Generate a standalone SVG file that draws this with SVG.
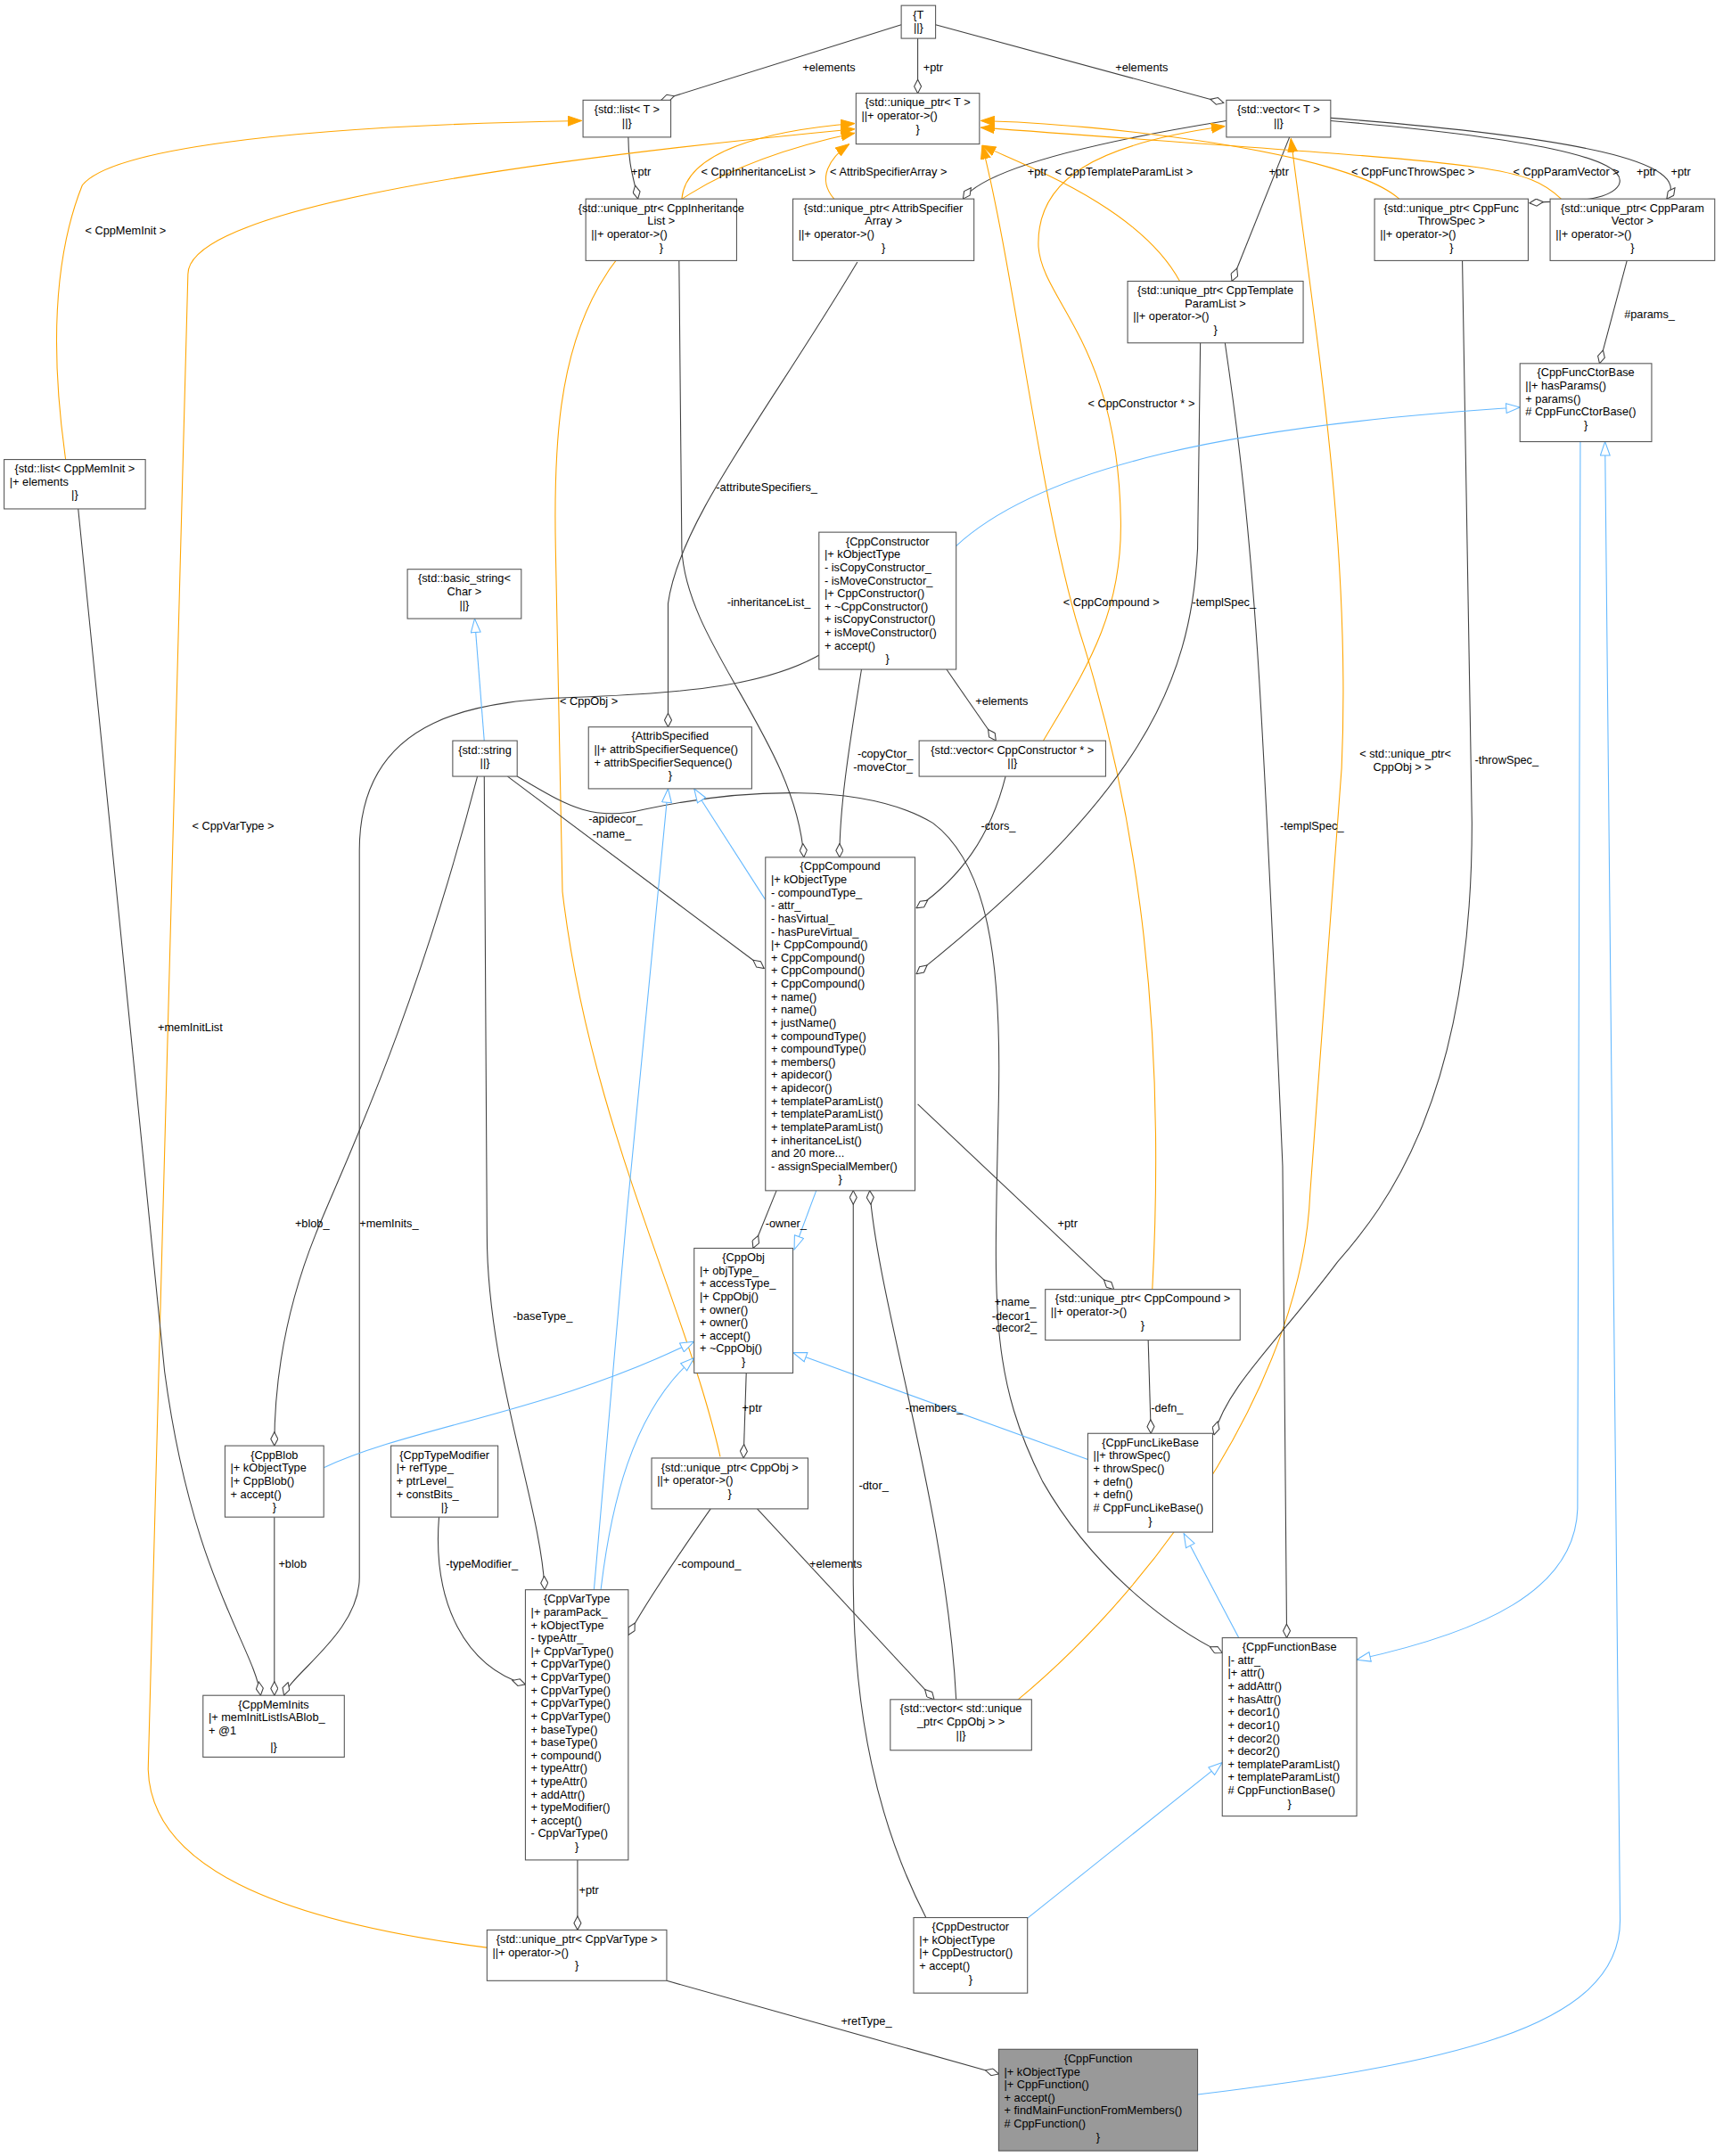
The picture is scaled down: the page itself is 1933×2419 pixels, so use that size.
<svg xmlns="http://www.w3.org/2000/svg" width="1933" height="2419" viewBox="0 0 1933 2419">
<style>
text{font-family:"Liberation Sans",Arial,sans-serif;font-size:8.3px;fill:#000}
.c{text-anchor:middle}
.node rect{fill:#fff;stroke:#555;stroke-width:0.7}
#n-func rect{fill:#999}
.e path{fill:none;stroke:#404040;stroke-width:0.7}
.e path.o{stroke:#ffa500}
.e path.b{stroke:#63b8ff}
.d{marker-end:url(#dia)}
.o{marker-end:url(#oarr)}
.b{marker-end:url(#barr)}
</style>
<defs>
<marker id="dia" markerUnits="userSpaceOnUse" viewBox="0 -3 11 6" refX="10.5" refY="0" markerWidth="11" markerHeight="6" orient="auto"><path d="M0.5,0 L5.5,-2.6 L10.5,0 L5.5,2.6 Z" fill="#fff" stroke="#404040" stroke-width="0.7"/></marker>
<marker id="oarr" markerUnits="userSpaceOnUse" viewBox="0 -4 10 8" refX="10" refY="0" markerWidth="10" markerHeight="8" orient="auto"><path d="M0,-3.5 L10,0 L0,3.5 Z" fill="#ffa500" stroke="#ffa500" stroke-width="0.7"/></marker>
<marker id="barr" markerUnits="userSpaceOnUse" viewBox="0 -4 11 8" refX="10.5" refY="0" markerWidth="11" markerHeight="8" orient="auto"><path d="M0.5,-3.5 L10.5,0 L0.5,3.5 Z" fill="#fff" stroke="#63b8ff" stroke-width="0.7"/></marker>
</defs>
<rect width="1933" height="2419" fill="#fff"/>
<g transform="scale(1.539)">
<g id="edges" class="e">
<path class="d" d="M657,18 L482,73"/>
<path class="d" d="M669,28 L669,68"/>
<path class="d" d="M682,18 L892,75"/>
<path class="d" d="M458,100 C458,120 462,130 465,145"/>
<path class="d" d="M894,88 C820,100 720,120 702,145"/>
<path class="d" d="M940,100 L898,205"/>
<path class="d" d="M970,88 C1110,100 1190,115 1180,135 C1172,148 1140,146 1115,148"/>
<path class="d" d="M970,86 C1150,100 1235,118 1215,145"/>
<path class="d" d="M1186,190 L1166,265"/>
<path class="o" d="M497,145 C500,110 560,95 623,90"/>
<path class="o" d="M608,145 C595,130 605,115 619,105"/>
<path class="o" d="M860,205 C830,150 745,120 716,106"/>
<path class="o" d="M1020,145 C980,110 800,90 715,88"/>
<path class="o" d="M1138,145 C1110,118 1080,120 715,93"/>
<path class="o" d="M48,336 C40,280 34,200 60,135 C80,110 200,92 424,88"/>
<path class="o" d="M356,1420 C200,1400 110,1360 108,1290 L137,200 C137,160 300,125 623,94"/>
<path class="o" d="M525,1062 C500,950 430,820 410,650 L405,400 C402,250 420,140 623,97"/>
<path class="o" d="M840,940 C850,750 830,600 790,470 C760,380 740,200 716,106"/>
<path class="o" d="M760,541 C790,490 818,450 817,380 C815,250 760,220 757,180 C755,130 800,105 893,92"/>
<path class="o" d="M741,1240 C850,1150 950,1000 955,870 L978,560 C985,400 960,250 941,101"/>
<path class="d" d="M495,190 L497,400 C500,470 580,540 586,625"/>
<path class="d" d="M625,191 C560,300 495,380 487,440 L487,530"/>
<path class="d" d="M875,250 L873,400 C868,500 830,580 668,710"/>
<path class="d" d="M893,250 C915,400 920,500 935,850 L938,1194"/>
<path class="d" d="M1066,190 L1073,600 C1073,800 1010,880 975,920 C930,980 895,1010 885,1046"/>
<path class="d" d="M57,371 C70,500 100,800 120,1000 C140,1150 185,1200 190,1236"/>
<path class="d" d="M600,476 C560,500 500,505 430,508 C350,510 262,520 262,620 L262,1150 C262,1190 212,1220 207,1236"/>
<path class="d" d="M628,488 C618,550 612,590 612,625"/>
<path class="d" d="M690,488 L726,540"/>
<path class="d" d="M733,566 C722,610 700,640 668,662"/>
<path class="d" d="M370,566 L557,706"/>
<path class="d" d="M377,566 C410,585 430,600 470,590 C540,575 630,570 680,600 C720,630 730,700 728,800 C725,950 720,1000 760,1080 C800,1150 860,1190 891,1205"/>
<path class="d" d="M348,566 C300,750 250,850 230,900 C210,950 200,1000 200,1054"/>
<path class="d" d="M353,566 L355,900 C355,1000 395,1100 397,1159"/>
<path class="b" d="M353,540 L346,451"/>
<path class="b" d="M558,656 L506,575"/>
<path class="b" d="M433,1159 L457,884 L487,575"/>
<path class="b" d="M595,868 L579,911"/>
<path class="d" d="M566,868 L549,910"/>
<path class="b" d="M236,1070 C300,1040 400,1030 506,978"/>
<path class="b" d="M438,1159 C445,1100 460,1030 506,990"/>
<path class="b" d="M793,1064 L578,986"/>
<path class="d" d="M544,1001 L542,1063"/>
<path class="d" d="M669,805 L812,940"/>
<path class="d" d="M697,1239 C690,1100 640,950 634,868"/>
<path class="d" d="M675,1398 C640,1330 622,1250 622,1150 L622,868"/>
<path class="d" d="M837,977 L839,1045"/>
<path class="d" d="M518,1100 C490,1140 470,1170 458,1192"/>
<path class="d" d="M552,1100 L681,1239"/>
<path class="d" d="M200,1106 L200,1236"/>
<path class="d" d="M320,1106 C315,1170 340,1215 383,1228"/>
<path class="d" d="M421,1356 L421,1407"/>
<path class="d" d="M486,1444 L728,1512"/>
<path class="b" d="M903,1194 L863,1118"/>
<path class="b" d="M747,1400 L891,1285"/>
<path class="b" d="M873,1527 C1050,1505 1181,1480 1181,1400 L1170,322"/>
<path class="b" d="M1152,322 L1150,1100 C1148,1160 1080,1190 989,1210"/>
<path class="b" d="M697,398 C760,340 900,310 1108,297"/>
</g>
<g id="labels">
<text x="585" y="52">+elements</text>
<text x="673" y="52">+ptr</text>
<text x="813" y="52">+elements</text>
<text x="460" y="128">+ptr</text>
<text x="511" y="128">&lt; CppInheritanceList &gt;</text>
<text x="605" y="128">&lt; AttribSpecifierArray &gt;</text>
<text x="749" y="128">+ptr</text>
<text x="769" y="128">&lt; CppTemplateParamList &gt;</text>
<text x="925" y="128">+ptr</text>
<text x="985" y="128">&lt; CppFuncThrowSpec &gt;</text>
<text x="1103" y="128">&lt; CppParamVector &gt;</text>
<text x="1193" y="128">+ptr</text>
<text x="1218" y="128">+ptr</text>
<text x="62" y="171">&lt; CppMemInit &gt;</text>
<text x="1184" y="232">#params_</text>
<text x="793" y="297">&lt; CppConstructor * &gt;</text>
<text x="522" y="358">-attributeSpecifiers_</text>
<text x="530" y="442">-inheritanceList_</text>
<text x="775" y="442">&lt; CppCompound &gt;</text>
<text x="869" y="442">-templSpec_</text>
<text x="711" y="514">+elements</text>
<text x="408" y="514">&lt; CppObj &gt;</text>
<text x="625" y="552">-copyCtor_</text>
<text x="622" y="562">-moveCtor_</text>
<text x="991" y="552">&lt; std::unique_ptr&lt;</text>
<text x="1001" y="562">CppObj &gt; &gt;</text>
<text x="1075" y="557">-throwSpec_</text>
<text x="140" y="605">&lt; CppVarType &gt;</text>
<text x="429" y="600">-apidecor_</text>
<text x="432" y="611">-name_</text>
<text x="715" y="605">-ctors_</text>
<text x="933" y="605">-templSpec_</text>
<text x="115" y="752">+memInitList</text>
<text x="215" y="895">+blob_</text>
<text x="262" y="895">+memInits_</text>
<text x="558" y="895">-owner_</text>
<text x="771" y="895">+ptr</text>
<text x="725" y="952">+name_</text>
<text x="723" y="962">-decor1_</text>
<text x="723" y="971">-decor2_</text>
<text x="374" y="962">-baseType_</text>
<text x="541" y="1029">+ptr</text>
<text x="660" y="1029">-members_</text>
<text x="839" y="1029">-defn_</text>
<text x="626" y="1086">-dtor_</text>
<text x="203" y="1143">+blob</text>
<text x="325" y="1143">-typeModifier_</text>
<text x="494" y="1143">-compound_</text>
<text x="590" y="1143">+elements</text>
<text x="422" y="1381">+ptr</text>
<text x="613" y="1476">+retType_</text>
</g>
<g id="n-T" class="node"><rect x="657" y="4" width="25" height="24"/><text class="c" x="669.5" y="13.5">{T</text><text class="c" x="669.5" y="23">||}</text></g>
<g id="n-listT" class="node"><rect x="425" y="73" width="64" height="27"/><text class="c" x="457" y="82.5">{std::list&lt; T &gt;</text><text class="c" x="457" y="92">||}</text></g>
<g id="n-uptrT" class="node"><rect x="624" y="68" width="90" height="37"/><text class="c" x="669" y="77.5">{std::unique_ptr&lt; T &gt;</text><text x="628" y="87">||+ operator-&gt;()</text><text class="c" x="669" y="96.5">}</text></g>
<g id="n-vecT" class="node"><rect x="894" y="73" width="76" height="27"/><text class="c" x="932" y="82.5">{std::vector&lt; T &gt;</text><text class="c" x="932" y="92">||}</text></g>
<g id="n-uInh" class="node"><rect x="427" y="145" width="110" height="45"/><text class="c" x="482" y="154.5">{std::unique_ptr&lt; CppInheritance</text><text class="c" x="482" y="164">List &gt;</text><text x="431" y="173.5">||+ operator-&gt;()</text><text class="c" x="482" y="183">}</text></g>
<g id="n-uAttr" class="node"><rect x="578" y="145" width="132" height="45"/><text class="c" x="644" y="154.5">{std::unique_ptr&lt; AttribSpecifier</text><text class="c" x="644" y="164">Array &gt;</text><text x="582" y="173.5">||+ operator-&gt;()</text><text class="c" x="644" y="183">}</text></g>
<g id="n-uThrow" class="node"><rect x="1002" y="145" width="112" height="45"/><text class="c" x="1058" y="154.5">{std::unique_ptr&lt; CppFunc</text><text class="c" x="1058" y="164">ThrowSpec &gt;</text><text x="1006" y="173.5">||+ operator-&gt;()</text><text class="c" x="1058" y="183">}</text></g>
<g id="n-uParam" class="node"><rect x="1130" y="145" width="120" height="45"/><text class="c" x="1190" y="154.5">{std::unique_ptr&lt; CppParam</text><text class="c" x="1190" y="164">Vector &gt;</text><text x="1134" y="173.5">||+ operator-&gt;()</text><text class="c" x="1190" y="183">}</text></g>
<g id="n-uTpl" class="node"><rect x="822" y="205" width="128" height="45"/><text class="c" x="886" y="214.5">{std::unique_ptr&lt; CppTemplate</text><text class="c" x="886" y="224">ParamList &gt;</text><text x="826" y="233.5">||+ operator-&gt;()</text><text class="c" x="886" y="243">}</text></g>
<g id="n-ctorBase" class="node"><rect x="1108" y="265" width="96" height="57"/><text class="c" x="1156" y="274.5">{CppFuncCtorBase</text><text x="1112" y="284">||+ hasParams()</text><text x="1112" y="293.5">+ params()</text><text x="1112" y="303"># CppFuncCtorBase()</text><text class="c" x="1156" y="312.5">}</text></g>
<g id="n-listMI" class="node"><rect x="3" y="335" width="103" height="36"/><text class="c" x="54.5" y="344.5">{std::list&lt; CppMemInit &gt;</text><text x="7" y="354">|+ elements</text><text class="c" x="54.5" y="363.5">|}</text></g>
<g id="n-ctor" class="node"><rect x="597" y="388" width="100" height="100"/><text class="c" x="647" y="397.5">{CppConstructor</text><text x="601" y="407">|+ kObjectType</text><text x="601" y="416.5">- isCopyConstructor_</text><text x="601" y="426">- isMoveConstructor_</text><text x="601" y="435.5">|+ CppConstructor()</text><text x="601" y="445">+ ~CppConstructor()</text><text x="601" y="454.5">+ isCopyConstructor()</text><text x="601" y="464">+ isMoveConstructor()</text><text x="601" y="473.5">+ accept()</text><text class="c" x="647" y="483">}</text></g>
<g id="n-bstr" class="node"><rect x="297" y="415" width="83" height="36"/><text class="c" x="338.5" y="424.5">{std::basic_string&lt;</text><text class="c" x="338.5" y="434">Char &gt;</text><text class="c" x="338.5" y="443.5">||}</text></g>
<g id="n-str" class="node"><rect x="330" y="540" width="47" height="26"/><text class="c" x="353.5" y="549.5">{std::string</text><text class="c" x="353.5" y="559">||}</text></g>
<g id="n-attrSpec" class="node"><rect x="429" y="530" width="119" height="45"/><text class="c" x="488.5" y="539.5">{AttribSpecified</text><text x="433" y="549">||+ attribSpecifierSequence()</text><text x="433" y="558.5">+ attribSpecifierSequence()</text><text class="c" x="488.5" y="568">}</text></g>
<g id="n-vecCtor" class="node"><rect x="670" y="540" width="136" height="26"/><text class="c" x="738" y="549.5">{std::vector&lt; CppConstructor * &gt;</text><text class="c" x="738" y="559">||}</text></g>
<g id="n-comp" class="node"><rect x="558" y="625" width="109" height="243"/><text class="c" x="612.5" y="634.5">{CppCompound</text><text x="562" y="644">|+ kObjectType</text><text x="562" y="653.5">- compoundType_</text><text x="562" y="663">- attr_</text><text x="562" y="672.5">- hasVirtual_</text><text x="562" y="682">- hasPureVirtual_</text><text x="562" y="691.5">|+ CppCompound()</text><text x="562" y="701">+ CppCompound()</text><text x="562" y="710.5">+ CppCompound()</text><text x="562" y="720">+ CppCompound()</text><text x="562" y="729.5">+ name()</text><text x="562" y="739">+ name()</text><text x="562" y="748.5">+ justName()</text><text x="562" y="758">+ compoundType()</text><text x="562" y="767.5">+ compoundType()</text><text x="562" y="777">+ members()</text><text x="562" y="786.5">+ apidecor()</text><text x="562" y="796">+ apidecor()</text><text x="562" y="805.5">+ templateParamList()</text><text x="562" y="815">+ templateParamList()</text><text x="562" y="824.5">+ templateParamList()</text><text x="562" y="834">+ inheritanceList()</text><text x="562" y="843.5">and 20 more...</text><text x="562" y="853">- assignSpecialMember()</text><text class="c" x="612.5" y="862.5">}</text></g>
<g id="n-obj" class="node"><rect x="506" y="910" width="72" height="91"/><text class="c" x="542" y="919.5">{CppObj</text><text x="510" y="929">|+ objType_</text><text x="510" y="938.5">+ accessType_</text><text x="510" y="948">|+ CppObj()</text><text x="510" y="957.5">+ owner()</text><text x="510" y="967">+ owner()</text><text x="510" y="976.5">+ accept()</text><text x="510" y="986">+ ~CppObj()</text><text class="c" x="542" y="995.5">}</text></g>
<g id="n-uComp" class="node"><rect x="762" y="940" width="142" height="37"/><text class="c" x="833" y="949.5">{std::unique_ptr&lt; CppCompound &gt;</text><text x="766" y="959">||+ operator-&gt;()</text><text class="c" x="833" y="968.5">}</text></g>
<g id="n-blob" class="node"><rect x="164" y="1054" width="72" height="52"/><text class="c" x="200" y="1063.5">{CppBlob</text><text x="168" y="1073">|+ kObjectType</text><text x="168" y="1082.5">|+ CppBlob()</text><text x="168" y="1092">+ accept()</text><text class="c" x="200" y="1101.5">}</text></g>
<g id="n-tmod" class="node"><rect x="285" y="1054" width="78" height="52"/><text class="c" x="324" y="1063.5">{CppTypeModifier</text><text x="289" y="1073">|+ refType_</text><text x="289" y="1082.5">+ ptrLevel_</text><text x="289" y="1092">+ constBits_</text><text class="c" x="324" y="1101.5">|}</text></g>
<g id="n-uObj" class="node"><rect x="475" y="1063" width="114" height="37"/><text class="c" x="532" y="1072.5">{std::unique_ptr&lt; CppObj &gt;</text><text x="479" y="1082">||+ operator-&gt;()</text><text class="c" x="532" y="1091.5">}</text></g>
<g id="n-funcLike" class="node"><rect x="793" y="1045" width="91" height="72"/><text class="c" x="838.5" y="1054.5">{CppFuncLikeBase</text><text x="797" y="1064">||+ throwSpec()</text><text x="797" y="1073.5">+ throwSpec()</text><text x="797" y="1083">+ defn()</text><text x="797" y="1092.5">+ defn()</text><text x="797" y="1102"># CppFuncLikeBase()</text><text class="c" x="838.5" y="1111.5">}</text></g>
<g id="n-varType" class="node"><rect x="383" y="1159" width="75" height="197"/><text class="c" x="420.5" y="1168.5">{CppVarType</text><text x="387" y="1178">|+ paramPack_</text><text x="387" y="1187.5">+ kObjectType</text><text x="387" y="1197">- typeAttr_</text><text x="387" y="1206.5">|+ CppVarType()</text><text x="387" y="1216">+ CppVarType()</text><text x="387" y="1225.5">+ CppVarType()</text><text x="387" y="1235">+ CppVarType()</text><text x="387" y="1244.5">+ CppVarType()</text><text x="387" y="1254">+ CppVarType()</text><text x="387" y="1263.5">+ baseType()</text><text x="387" y="1273">+ baseType()</text><text x="387" y="1282.5">+ compound()</text><text x="387" y="1292">+ typeAttr()</text><text x="387" y="1301.5">+ typeAttr()</text><text x="387" y="1311">+ addAttr()</text><text x="387" y="1320.5">+ typeModifier()</text><text x="387" y="1330">+ accept()</text><text x="387" y="1339.5">- CppVarType()</text><text class="c" x="420.5" y="1349">}</text></g>
<g id="n-memInits" class="node"><rect x="148" y="1236" width="103" height="45"/><text class="c" x="199.5" y="1245.5">{CppMemInits</text><text x="152" y="1255">|+ memInitListIsABlob_</text><text x="152" y="1264.5">+ @1</text><text class="c" x="199.5" y="1276">|}</text></g>
<g id="n-vecUObj" class="node"><rect x="649" y="1239" width="103" height="37"/><text class="c" x="700.5" y="1248.5">{std::vector&lt; std::unique</text><text class="c" x="700.5" y="1258">_ptr&lt; CppObj &gt; &gt;</text><text class="c" x="700.5" y="1267.5">||}</text></g>
<g id="n-funcBase" class="node"><rect x="891" y="1194" width="98" height="130"/><text class="c" x="940" y="1203.5">{CppFunctionBase</text><text x="895" y="1213">|- attr_</text><text x="895" y="1222.5">|+ attr()</text><text x="895" y="1232">+ addAttr()</text><text x="895" y="1241.5">+ hasAttr()</text><text x="895" y="1251">+ decor1()</text><text x="895" y="1260.5">+ decor1()</text><text x="895" y="1270">+ decor2()</text><text x="895" y="1279.5">+ decor2()</text><text x="895" y="1289">+ templateParamList()</text><text x="895" y="1298.5">+ templateParamList()</text><text x="895" y="1308"># CppFunctionBase()</text><text class="c" x="940" y="1317.5">}</text></g>
<g id="n-uVarType" class="node"><rect x="355" y="1407" width="131" height="37"/><text class="c" x="420.5" y="1416.5">{std::unique_ptr&lt; CppVarType &gt;</text><text x="359" y="1426">||+ operator-&gt;()</text><text class="c" x="420.5" y="1435.5">}</text></g>
<g id="n-dtor" class="node"><rect x="666" y="1398" width="83" height="55"/><text class="c" x="707.5" y="1407.5">{CppDestructor</text><text x="670" y="1417">|+ kObjectType</text><text x="670" y="1426.5">|+ CppDestructor()</text><text x="670" y="1436">+ accept()</text><text class="c" x="707.5" y="1445.5">}</text></g>
<g id="n-func" class="node"><rect x="728" y="1494" width="145" height="74"/><text class="c" x="800.5" y="1503.5">{CppFunction</text><text x="732" y="1513">|+ kObjectType</text><text x="732" y="1522.5">|+ CppFunction()</text><text x="732" y="1532">+ accept()</text><text x="732" y="1541.5">+ findMainFunctionFromMembers()</text><text x="732" y="1551"># CppFunction()</text><text class="c" x="800.5" y="1560.5">}</text></g>
</g>
</svg>
